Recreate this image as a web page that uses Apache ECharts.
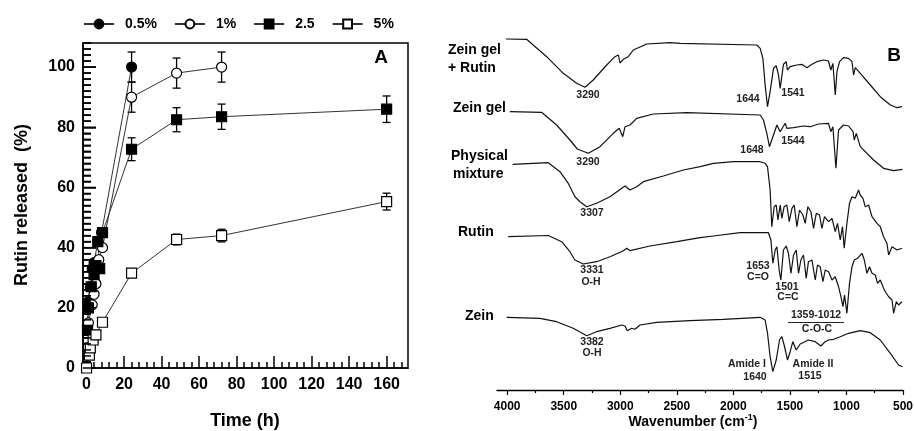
<!DOCTYPE html>
<html><head><meta charset="utf-8">
<script src="https://cdn.jsdelivr.net/npm/echarts@6/dist/echarts.min.js"></script>
<style>html,body{margin:0;padding:0;background:#fff}#c{width:914px;height:431px}</style>
</head><body><div id="c"></div>
<script>
// ---------- Panel A: release data ----------
const seriesNames = ['0.5%', '1%', '2.5', '5%'];
const time05 = [0.5, 1, 2, 3, 4, 6, 8, 24];
const rel05 = [14, 22, 27, 33, 35, 42, 45, 100];
const time1 = [1, 3, 4, 5, 6.5, 8.5, 24, 48, 72];
const rel1 = [15, 21, 24.5, 28, 36, 40, 90, 98, 100];
const time25 = [0.5, 1, 2.5, 4, 5, 7, 6, 8.5, 24, 48, 72, 160];
const rel25 = [12.5, 20, 27, 31, 34, 33, 42, 45, 72.7, 82.5, 83.5, 86];
const time5 = [0, 1.5, 2, 3.5, 5, 8.5, 24, 48, 72, 160];
const rel5 = [0, 4.3, 6.7, 9.3, 11, 15.2, 31.5, 42.7, 44, 55.3];
// error bars (time, standard deviation)
const err05T = [24], err05 = [5];
const err1T = [24, 48, 72], err1 = [5, 5, 5];
const err25T = [24, 48, 72, 160], err25 = [3.8, 4, 4.2, 4.4];
const err5T = [48, 72, 160], err5 = [1.8, 2.1, 2.8];
const xTicksA = [0, 20, 40, 60, 80, 100, 120, 140, 160];
const yTicksA = [0, 20, 40, 60, 80, 100];

// ---------- Panel B: FTIR spectra (wavenumber, offset transmittance a.u.) ----------
const wnGelRutin = [4011,3828,3651,3504,3386,3312,3239,3120,3047,3017,3002,2973,2929,2885,2766,2560,2471,1792,1763,1739,1719,1698,1675,1645,1621,1601,1586,1557,1533,1522,1498,1438,1394,1350,1305,1261,1203,1159,1138,1120,1099,1084,1061,1026,981,951,937,922,878,789,701,612,553,509];
const tGelRutin = [351,350.7,333.3,316.7,306.7,302.7,310,325,333.3,335,327,330.7,333.3,340,346,347.3,346.7,345,341.7,331.7,305,283.3,298.3,321.7,324.3,315,301.7,325.7,328.3,320,323.3,325,325.7,322.3,325.7,328.3,330,329,320,326.7,295,318.3,328.3,332.3,331.7,328.3,315,322.3,316.7,305,293.3,285,282.3,283.3];
const wnGel = [3976,3696,3563,3445,3380,3283,3179,3062,3009,2978,2958,2914,2855,2708,2412,1763,1734,1704,1681,1615,1586,1542,1527,1468,1380,1320,1247,1159,1138,1120,1093,1070,1026,981,942,931,913,878,760,672,583,505];
const tGel = [278.3,277.7,265,250,241,236.7,243.3,256.7,261.7,253.3,263.3,265,271.7,276,277.3,275,270,256.7,243.3,265,258.3,266.7,261.7,262.3,264,263.3,266,266.7,258.3,263.3,221.7,260,265,264,258.3,250,256.7,243.3,230,221.7,219.3,220.7];
const wnMix = [3952,3637,3533,3460,3401,3356,3297,3209,3091,2987,2958,2914,2855,2796,2619,2442,2294,2176,1999,1763,1719,1698,1675,1660,1639,1621,1606,1586,1571,1551,1527,1506,1482,1462,1438,1415,1385,1365,1341,1314,1291,1267,1238,1217,1194,1158,1128,1099,1079,1055,1035,1020,996,973,951,922,893,878,854,834,804,774,730,701,672,642,627,597,553,509];
const tMix = [225.7,227.3,218.3,206.7,193.3,188.3,183.3,186.7,193.3,201.7,204,200,203.3,208.3,214,220,223.3,226.7,228.3,228.3,226.7,223.3,200,163.3,183.3,185,170,185,171.7,183.3,185,168.3,181.7,185,163.3,180,175,166.7,183.3,178.3,161.7,176.7,175,161.7,173.3,168.3,171.7,158.3,166.7,150,163.3,141.7,166.7,186.7,193.3,191.7,200,195,191.7,183.3,185,173.3,166.7,163.3,153.3,146.7,135,143.3,140,141.7];
const wnRutin = [3991,3637,3518,3445,3401,3327,3209,3091,2973,2943,2914,2737,2500,2294,2176,1940,1690,1668,1651,1630,1615,1595,1580,1557,1533,1513,1491,1468,1444,1424,1403,1380,1356,1336,1305,1276,1256,1232,1208,1188,1158,1128,1099,1070,1049,1031,1017,996,973,951,931,902,863,842,819,796,774,745,725,701,665,627,597,583,559,539,509];
const tRutin = [153.3,154.5,148.3,138.3,130,126,128.3,133.3,139.3,141.7,139.3,144,148.3,152.3,154,157.3,157.3,150,126.7,140,143.3,120,110,140,144,136.7,116.7,135,140,116.7,130,135,111.7,128.3,130,110,125,123.3,108.3,120,118.3,110,113.3,103.3,93.3,83.3,95,76.7,106.7,123.3,130,131.7,136.7,130,116.7,123.3,116.7,115,106.7,110,100,93.3,90,76.7,88.3,85,88.3];
const wnZein = [4005,3711,3563,3416,3297,3209,3091,2987,2958,2938,2899,2870,2825,2678,2383,2088,1763,1719,1698,1675,1651,1621,1592,1571,1551,1521,1498,1474,1462,1444,1409,1336,1276,1226,1188,1158,1114,1055,981,878,789,701,612,539,505];
const tZein = [72.7,71.7,68.3,61.7,54.3,58.3,61.7,65,64,59.3,61.7,60.7,65,67.7,69.3,70.7,72.7,70,56.7,33.3,18.3,30,50,53.3,45,30,38.3,48.3,45,40,46,50,48.3,44,48.3,50,50.7,53.3,56.7,59.3,57.3,50,36.7,25,23.3];
const xTicksB = [500, 1000, 1500, 2000, 2500, 3000, 3500, 4000];
const xMinorB = [750, 1250, 1750, 2250, 2750, 3250, 3750];

// ---------- build ----------
const FONT = 'Liberation Sans, Arial, sans-serif';
const X_MIN = -1.9, X_MAX = 171.4, Y_MIN = 0, Y_MAX = 108;
const zip = (a, b) => a.map((v, i) => [v, b[i]]);
const minorX = []; for (let v = 0; v <= 170; v += 4) if (v % 20) minorX.push(v);
const minorY = []; for (let v = 0; v <= 108; v += 2) if (v % 20) minorY.push(v);

function errData(T, S, times, vals) {
  return T.map((t, i) => { const m = vals[times.lastIndexOf(t)]; return [t, m - S[i], m + S[i]]; });
}
function errSeries(data) {
  return {
    type: 'custom', xAxisIndex: 0, yAxisIndex: 0, z: 1, silent: true,
    data: data,
    renderItem: function (p, api) {
      const a = api.coord([api.value(0), api.value(1)]);
      const b = api.coord([api.value(0), api.value(2)]);
      const w = 4;
      return { type: 'group', children: [
        { type: 'line', shape: { x1: a[0], y1: a[1], x2: b[0], y2: b[1] }, style: { stroke: '#000', lineWidth: 1.3 } },
        { type: 'line', shape: { x1: a[0] - w, y1: a[1], x2: a[0] + w, y2: a[1] }, style: { stroke: '#000', lineWidth: 1.3 } },
        { type: 'line', shape: { x1: b[0] - w, y1: b[1], x2: b[0] + w, y2: b[1] }, style: { stroke: '#000', lineWidth: 1.3 } }
      ]};
    }
  };
}
function relSeries(name, t, v, symbol, filled) {
  return {
    name: name, type: 'line', xAxisIndex: 0, yAxisIndex: 0, z: 3,
    data: zip(t, v), symbol: symbol, symbolSize: 10, showSymbol: true,
    lineStyle: { color: '#333', width: 1 },
    itemStyle: { color: filled ? '#000' : '#fff', borderColor: '#000', borderWidth: 1.2 },
    emphasis: { disabled: true }
  };
}
function specSeries(w, t) {
  return {
    type: 'line', xAxisIndex: 2, yAxisIndex: 2, data: zip(w, t), showSymbol: false,
    lineStyle: { color: '#111', width: 1.2 }, silent: true
  };
}
const plain = v => String(v);
const option = {
  animation: false,
  backgroundColor: '#fff',
  textStyle: { fontFamily: FONT },
  legend: {
    data: seriesNames, left: 78, top: 12, itemWidth: 30, itemHeight: 11, itemGap: 17,
    textStyle: { fontSize: 14, fontWeight: 'bold', color: '#000', fontFamily: FONT, padding: [0, 0, 0, 6] },
    selectedMode: false
  },
  grid: [
    { left: 83, top: 43, width: 325, height: 325, show: true, borderColor: '#000', borderWidth: 1.5, backgroundColor: 'transparent', outerBoundsMode: 'none', containLabel: false },
    { left: 497, top: 20, width: 406, height: 370, outerBoundsMode: 'none', containLabel: false }
  ],
  xAxis: [
    { gridIndex: 0, type: 'value', min: X_MIN, max: X_MAX, position: 'bottom',
      axisLine: { show: true, onZero: false, lineStyle: { color: '#000', width: 1.5 } },
      axisTick: { show: true, inside: true, length: 12, customValues: xTicksA, lineStyle: { color: '#000', width: 1.5 } },
      axisLabel: { customValues: xTicksA, formatter: plain, fontSize: 16, fontWeight: 'bold', color: '#000', margin: 9, fontFamily: FONT },
      splitLine: { show: false } },
    { gridIndex: 0, type: 'value', min: X_MIN, max: X_MAX, position: 'bottom',
      axisLine: { show: false, onZero: false },
      axisTick: { show: true, inside: true, length: 6, customValues: minorX, lineStyle: { color: '#000', width: 1.5 } },
      axisLabel: { show: false }, splitLine: { show: false } },
    { gridIndex: 1, type: 'value', min: 500, max: 4090, inverse: true, position: 'bottom',
      axisLine: { show: true, onZero: false, lineStyle: { color: '#000', width: 1.3 } },
      axisTick: { show: true, length: 5, customValues: xTicksB, lineStyle: { color: '#000', width: 1.2 } },
      axisLabel: { customValues: xTicksB, formatter: plain, fontSize: 12, fontWeight: 'bold', color: '#000', margin: 11, fontFamily: FONT },
      splitLine: { show: false } },
    { gridIndex: 1, type: 'value', min: 500, max: 4090, inverse: true, position: 'bottom',
      axisLine: { show: false, onZero: false },
      axisTick: { show: true, length: 3, customValues: xMinorB, lineStyle: { color: '#000', width: 1.2 } },
      axisLabel: { show: false }, splitLine: { show: false } }
  ],
  yAxis: [
    { gridIndex: 0, type: 'value', min: Y_MIN, max: Y_MAX, position: 'left',
      axisLine: { show: true, onZero: false, lineStyle: { color: '#000', width: 1.5 } },
      axisTick: { show: true, inside: true, length: 13, customValues: yTicksA, lineStyle: { color: '#000', width: 1.5 } },
      axisLabel: { customValues: yTicksA, formatter: plain, fontSize: 16, fontWeight: 'bold', color: '#000', margin: 8, fontFamily: FONT },
      splitLine: { show: false } },
    { gridIndex: 0, type: 'value', min: Y_MIN, max: Y_MAX, position: 'left',
      axisLine: { show: false, onZero: false },
      axisTick: { show: true, inside: true, length: 8, customValues: minorY, lineStyle: { color: '#000', width: 1.5 } },
      axisLabel: { show: false }, splitLine: { show: false } },
    { gridIndex: 1, type: 'value', min: 0, max: 370, show: false, axisLine: { onZero: false } }
  ],
  series: [
    errSeries(errData(err05T, err05, time05, rel05)),
    errSeries(errData(err1T, err1, time1, rel1)),
    errSeries(errData(err25T, err25, time25, rel25)),
    errSeries(errData(err5T, err5, time5, rel5)),
    relSeries(seriesNames[0], time05, rel05, 'circle', true),
    relSeries(seriesNames[1], time1, rel1, 'circle', false),
    relSeries(seriesNames[2], time25, rel25, 'rect', true),
    relSeries(seriesNames[3], time5, rel5, 'rect', false),
    specSeries(wnGelRutin, tGelRutin),
    specSeries(wnGel, tGel),
    specSeries(wnMix, tMix),
    specSeries(wnRutin, tRutin),
    specSeries(wnZein, tZein)
  ],
  graphic: (function () {
    const g = [];
    let n = 0;
    const txt = (s, x, y, size, align, color, rot) => g.push({ id: 'txt' + (n++), type: 'text', x: x, y: y, rotation: rot || 0, silent: true,
      style: { text: s, fontSize: size, fontWeight: 'bold', fontFamily: FONT, fill: color || '#000',
        textAlign: align || 'center', textVerticalAlign: 'middle',
        rich: { sup: { fontSize: 9, fontWeight: 'bold', fontFamily: FONT, fill: '#000', verticalAlign: 'top', padding: [0, 0, 8, 0] } } } });
    // axis titles
    txt('Time (h)', 245, 421, 18);
    txt('Rutin released  (%)', 22, 205, 18, 'center', '#000', Math.PI / 2);
    txt('Wavenumber (cm{sup|-1})', 693, 422, 14);
    txt('A', 381, 58, 19);
    txt('B', 894, 56, 19);
    txt('Zein gel', 448, 50, 14, 'left');
    txt('+ Rutin', 448, 68, 14, 'left');
    txt('Zein gel', 453, 108, 14, 'left');
    txt('Physical', 451, 156, 14, 'left');
    txt('mixture', 453, 174, 14, 'left');
    txt('Rutin', 458, 232, 14, 'left');
    txt('Zein', 465, 316, 14, 'left');
    const c = '#222', s = 10.5;
    txt('3290', 588, 95, s, 'center', c);
    txt('1644', 748, 99, s, 'center', c);
    txt('1541', 793, 93, s, 'center', c);
    txt('3290', 588, 162, s, 'center', c);
    txt('1648', 752, 150, s, 'center', c);
    txt('1544', 793, 141, s, 'center', c);
    txt('3307', 592, 213, s, 'center', c);
    txt('3331', 592, 270, s, 'center', c);
    txt('O-H', 591, 282, s, 'center', c);
    txt('1653', 758, 266, s, 'center', c);
    txt('C=O', 758, 277, s, 'center', c);
    txt('1501', 787, 287, s, 'center', c);
    txt('C=C', 788, 297, s, 'center', c);
    txt('1359-1012', 816, 315, s, 'center', c);
    txt('C-O-C', 817, 329, s, 'center', c);
    txt('3382', 592, 342, s, 'center', c);
    txt('O-H', 592, 353, s, 'center', c);
    txt('Amide I', 747, 364, s, 'center', c);
    txt('1640', 755, 377, s, 'center', c);
    txt('Amide II', 813, 364, s, 'center', c);
    txt('1515', 810, 376, s, 'center', c);
    g.push({ id: 'coc-line', type: 'line', silent: true, shape: { x1: 788, y1: 322.5, x2: 844, y2: 322.5 }, style: { stroke: '#222', lineWidth: 1 } });
    return g;
  })()
};
const chart = echarts.init(document.getElementById('c'), null, { renderer: 'canvas' });
chart.setOption(option);

// Inward y-axis ticks of panel A, positioned through the y axis scale
(function () {
  const x0 = chart.convertToPixel({ xAxisIndex: 0 }, X_MIN);
  const ticks = [];
  const add = (v, len, k) => {
    const py = chart.convertToPixel({ yAxisIndex: 0 }, v);
    if (isFinite(py) && isFinite(x0)) {
      ticks.push({ id: 'ytick' + k, type: 'line', silent: true, z: 100,
        shape: { x1: x0, y1: py, x2: x0 + len, y2: py }, style: { stroke: '#000', lineWidth: 1.5 } });
    }
  };
  yTicksA.forEach((v, i) => add(v, 13, 'M' + i));
  minorY.forEach((v, i) => add(v, 8, 'm' + i));
  if (ticks.length) chart.setOption({ graphic: ticks });
})();
</script>
</body></html>
